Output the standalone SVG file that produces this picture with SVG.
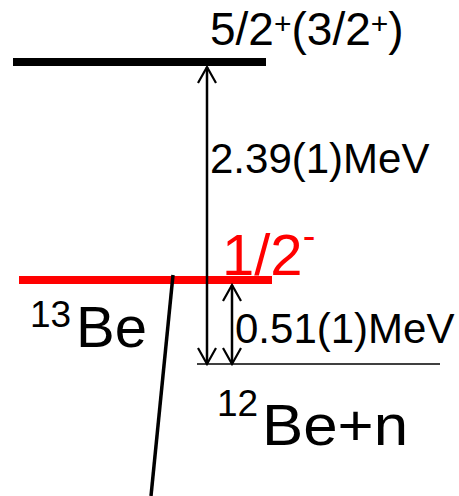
<svg xmlns="http://www.w3.org/2000/svg" width="459" height="496" viewBox="0 0 459 496">
  <style>
    text { font-family: "Liberation Sans", Arial, sans-serif; fill: #000; }
    .lbl { font-size: 42px; }
    .big { font-size: 58px; }
    .sup { font-size: 37px; }
    .arrow { stroke: #000; stroke-width: 2.5; fill: none; }
  </style>
  <defs>
    <marker id="open" viewBox="0 0 20 20" refX="18" refY="10" markerWidth="20" markerHeight="20" markerUnits="userSpaceOnUse" orient="auto-start-reverse">
      <path d="M2,1 L18,10 L2,19" fill="none" stroke="#000" stroke-width="2.2"/>
    </marker>
  </defs>
  <rect width="459" height="496" fill="#fff"/>

  <g id="level-52">
    <rect x="13" y="58" width="253" height="8" fill="#000"/>
    <text x="210" y="45" style="font-size:46px">5/2<tspan dy="-11" style="font-size:30px">+</tspan><tspan dy="11">(3/2</tspan><tspan dy="-11" style="font-size:30px">+</tspan><tspan dy="11">)</tspan></text>
  </g>

  <g id="level-12">
    <rect x="19" y="276" width="253" height="8" fill="#ff0000"/>
    <text x="222" y="275" class="big" style="fill:#ff0000">1/2<tspan dy="-26" style="font-size:38px;fill:#ff0000">-</tspan></text>
  </g>

  <g id="be13">
    <text x="30" y="327" class="sup">13</text>
    <text x="76" y="347" class="big">Be</text>
  </g>

  <g id="threshold">
    <line x1="197" y1="364" x2="440" y2="364" stroke="#000" stroke-width="1.6"/>
    <text x="217" y="416" class="sup">12</text>
    <text x="262" y="445" class="big" textLength="146" lengthAdjust="spacingAndGlyphs">Be+n</text>
  </g>

  <g id="connectors">
    <line class="arrow" x1="207" y1="364" x2="207" y2="67" marker-start="url(#open)" marker-end="url(#open)"/>
    <line class="arrow" x1="232" y1="364" x2="232" y2="285" marker-start="url(#open)" marker-end="url(#open)"/>
    <line x1="173" y1="275" x2="151" y2="496" stroke="#000" stroke-width="3.5"/>
    <text x="210" y="173" class="lbl">2.39(1)MeV</text>
    <text x="235" y="343" class="lbl">0.51(1)MeV</text>
  </g>
</svg>
